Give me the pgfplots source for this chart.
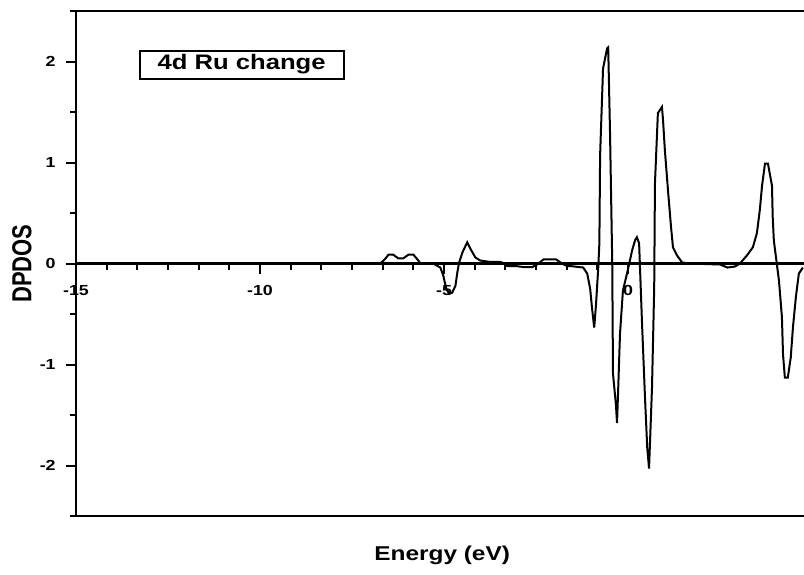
\documentclass[border=0pt]{standalone}
\usepackage{fontspec}
\setmainfont{Liberation Sans}
\newfontfamily\wide[FakeStretch=1.22]{Liberation Sans}
\usepackage{graphicx}
\usepackage{pgfplots}
\pgfplotsset{compat=1.18}
\pgfplotstableread{
x y
-6.80 0
-6.73 0.0
-6.59 0.05
-6.51 0.087
-6.38 0.087
-6.24 0.05
-6.11 0.05
-5.97 0.087
-5.83 0.087
-5.70 0.03
-5.64 0.0
-5.30 0.0
-5.10 -0.04
-5.02 -0.12
-4.94 -0.25
-4.86 -0.30
-4.78 -0.29
-4.69 -0.22
-4.64 -0.09
-4.59 0.01
-4.50 0.11
-4.37 0.21
-4.29 0.15
-4.15 0.06
-4.02 0.03
-3.74 0.015
-3.47 0.015
-3.35 0.0
-3.28 -0.027
-3.01 -0.027
-2.85 -0.035
-2.60 -0.035
-2.47 -0.01
-2.30 0.04
-1.95 0.04
-1.80 0.0
-1.66 -0.025
-1.57 -0.025
-1.22 -0.04
-1.11 -0.10
-1.03 -0.25
-0.98 -0.44
-0.92 -0.635
-0.87 -0.40
-0.81 -0.04
-0.78 0.2
-0.76 1.07
-0.68 1.93
-0.57 2.13
-0.54 2.14
-0.49 1.29
-0.43 0.0
-0.41 -1.09
-0.33 -1.40
-0.30 -1.58
-0.27 -1.26
-0.22 -0.70
-0.14 -0.27
-0.03 -0.10
0.05 0.03
0.11 0.13
0.19 0.23
0.24 0.26
0.30 0.20
0.38 -0.60
0.46 -1.33
0.52 -1.82
0.57 -2.03
0.65 -1.23
0.71 -0.24
0.73 0.79
0.81 1.49
0.92 1.55
0.95 1.42
1.00 1.12
1.09 0.70
1.17 0.35
1.22 0.16
1.33 0.08
1.47 0.01
1.68 0.0
2.50 -0.01
2.70 -0.04
2.90 -0.03
3.04 0.0
3.23 0.08
3.39 0.16
3.50 0.30
3.58 0.53
3.64 0.77
3.72 0.99
3.80 0.99
3.91 0.77
3.93 0.46
3.96 0.23
4.04 0.0
4.10 -0.17
4.18 -0.53
4.21 -0.90
4.26 -1.13
4.34 -1.13
4.42 -0.93
4.48 -0.63
4.56 -0.33
4.64 -0.10
4.75 -0.04
}\dostable
\begin{document}
\begin{tikzpicture}
\begin{axis}[
  at={(0,0)}, anchor=south west,
  scale only axis, width=364pt, height=252.5pt,
  xmin=-15, xmax=4.78, ymin=-2.5, ymax=2.5,
  axis x line*=middle, axis y line*=left,
  hide obscured x ticks=false, hide obscured y ticks=false,
  axis line style={-, line width=1.1pt, black},
  xtick={-15,-10,-5,0}, xticklabels={-15,-10,-5,0},
  minor x tick num=5,
  ytick={-2,-1,0,1,2}, yticklabels={-2,-1,0,1,2},
  minor ytick={-2.5,-1.5,-0.5,0.5,1.5,2.5},
  tick align=outside,
  major tick length=5pt, minor tick length=3pt,
  every tick/.style={line width=1pt, black},
  ticklabel style={font=\wide\bfseries\fontsize{7.3}{8}\selectfont},
  xticklabel style={anchor=center, inner sep=0pt, yshift=-8.5pt},
  yticklabel style={anchor=east, inner sep=0pt, xshift=-5pt},
  xlabel={Energy (eV)},
  every axis x label/.style={at={(axis description cs:0.503,0)}, yshift=-19.5pt, anchor=center, font=\wide\bfseries\fontsize{10}{12}\selectfont},
  ylabel={\scalebox{1}[1.25]{DPDOS}},
  every axis y label/.style={at={(axis description cs:0,0.5)}, xshift=-27pt, rotate=90, anchor=center, font=\bfseries\fontsize{11}{12}\selectfont},
  clip=false,
]
\addplot[black, line width=1pt, mark=none, sharp plot] table[x=x, y=y] {\dostable};
\draw[line width=1.1pt] (rel axis cs:0,1) -- (rel axis cs:1,1);
\draw[line width=1.1pt] (rel axis cs:0,0) -- (rel axis cs:1,0);
\node[draw, line width=1pt, minimum width=102pt, minimum height=14pt, inner sep=0pt, font=\wide\bfseries\fontsize{10.5}{12}\selectfont] at (axis cs:-10.5,1.97) {4d Ru change};
\end{axis}
\pgfresetboundingbox
\path[use as bounding box] (-38pt,-29pt) rectangle (364pt,258pt);
\end{tikzpicture}
\end{document}
